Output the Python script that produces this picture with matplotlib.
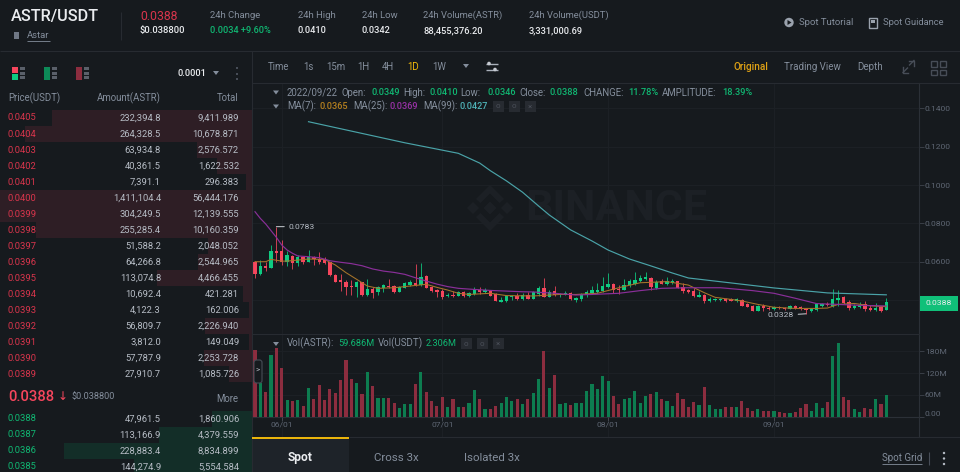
import matplotlib
matplotlib.use("Agg")
import matplotlib.pyplot as plt
from matplotlib.patches import Rectangle, Polygon, FancyBboxPatch, Circle

plt.rcParams['font.family'] = ['Roboto', 'DejaVu Sans']

# ---------- data ----------
UNIT = 1e-4  # OHLC and moving averages are listed in units of 0.0001 USDT
opens = [600,536,577,569,656,656,598,631,591,623,598,626,612,614,597,532,503,496,473,466,492,428,459,440,464,475,475,442,464,478,
         490,478,525,470,452,449,419,428,423,442,423,431,452,440,449,429,391,395,414,421,405,426,407,429,464,417,445,424,428,438,
         402,405,428,435,442,449,466,483,457,454,476,483,497,508,516,464,497,485,490,497,468,450,447,417,426,393,398,398,407,407,
         395,400,379,369,344,369,360,353,363,360,355,367,365,353,341,349,370,381,369,400,414,389,360,365,379,360,349,362,349]
highs = [603,609,600,687,783,713,657,635,635,626,661,630,652,626,600,536,536,504,504,499,496,511,470,473,482,508,478,473,492,504,
         586,591,529,473,456,456,438,449,445,445,442,466,466,461,452,435,414,426,424,438,435,443,445,473,516,452,475,438,449,442,
         414,435,452,475,487,518,539,487,478,508,508,546,530,544,522,504,508,522,511,501,487,456,464,449,429,414,412,409,410,409,
         410,407,382,372,372,377,369,367,367,365,374,372,370,356,356,382,386,388,456,452,421,400,377,389,393,374,382,369,410]
lows = [513,532,550,565,600,583,577,562,579,586,597,583,588,588,527,492,447,426,426,417,423,423,412,426,442,464,438,440,461,473,
        473,473,461,443,417,405,414,416,421,416,417,428,433,438,421,393,388,391,400,402,402,403,403,423,414,414,423,417,424,400,
        389,396,414,429,438,443,461,435,431,450,470,478,492,504,452,456,482,480,485,461,438,438,416,414,386,389,396,395,391,393,
        391,367,362,342,342,344,349,349,353,349,351,351,348,328,337,344,365,369,365,370,377,348,355,360,342,341,344,337,346]
closes = [536,577,567,656,647,597,635,591,623,597,626,612,597,595,529,496,496,468,468,492,426,457,435,466,478,468,442,466,489,492,
          478,522,464,447,443,417,426,421,442,423,436,456,440,452,423,395,400,423,421,405,428,407,442,464,417,443,428,433,438,403,
          409,431,442,450,452,475,483,452,452,480,497,504,515,518,466,496,485,501,501,464,445,442,419,426,395,403,407,407,395,395,
          405,370,363,344,369,358,355,363,356,353,367,356,351,346,351,377,379,374,407,410,382,358,370,374,355,346,358,342,388]
volumes_m = [183,92,67,169,188,135,46,44,45,30,78,49,87,45,75,66,100,156,104,93,61,124,83,52,51,51,38,25,36,34,
             91,122,68,42,30,53,27,50,28,28,38,72,49,22,21,29,39,54,44,49,35,50,64,104,180,80,115,35,37,33,
             38,38,71,91,77,111,98,57,34,49,51,71,38,57,63,67,49,42,30,64,49,27,40,32,82,32,21,21,26,27,
             26,44,23,17,20,17,16,16,14,9,10,12,24,34,16,38,25,41,167,203,53,46,22,12,23,21,50,34,59.7]

ma7_idx = [0,2,3,5,6,10,13,14,15,17,19,21,23,26,29,32,34,36,38,40,44,47,52,57,60,64,68,72,77,81,84,86,89,91,94,97,101,105,107,109,112,115,118]
ma7_val = [600,600,612,603,603,614,612,597,583,543,508,473,461,464,473,482,466,452,435,429,435,423,421,429,429,435,464,490,496,478,438,414,403,395,377,362,356,356,358,377,382,370,365]
ma25_idx = [0,1,2,3,4,5,6,7,8,10,12,14,16,18,20,22,24,26,28,30,32,34,36,38,40,44,50,52,56,60,63,68,72,76,81,87,93,97,101,105,109,113,118]
ma25_val = [861,826,797,762,727,687,661,644,630,626,621,605,597,590,579,562,551,544,534,516,499,483,470,461,457,450,443,442,435,426,429,435,449,461,464,464,449,435,409,381,377,372,369]
ma99_idx = [10,19,28,38,42,44,47,50,53,55,59,63,66,70,74,78,81,89,97,107,118]
ma99_val = [1331,1276,1221,1166,1115,1075,1022,963,891,844,766,708,661,614,578,541,515,489,463,437,427]

date_ticks = {5: '06/01', 35: '07/01', 66: '08/01', 97: '09/01'}
price_ticks = [0.04, 0.06, 0.08, 0.10, 0.12, 0.14]
price_tick_labels = ['', '0.0600', '0.0800', '0.1000', '0.1200', '0.1400']
vol_ticks = [0, 60, 120, 180]
vol_tick_labels = ['0.00', '60M', '120M', '180M']

ask_prices = ['0.0405','0.0404','0.0403','0.0402','0.0401','0.0400','0.0399','0.0398','0.0397','0.0396','0.0395','0.0394','0.0393','0.0392','0.0391','0.0390','0.0389']
ask_amounts = ['232,394.8','264,328.5','63,934.8','40,361.5','7,391.1','1,411,104.4','304,249.5','255,285.4','51,588.2','64,266.8','113,074.8','10,692.4','4,122.3','56,809.7','3,812.0','57,787.9','27,910.7']
ask_totals = [9411.989,10678.871,2576.572,1622.532,296.383,56444.176,12139.555,10160.359,2048.052,2544.965,4466.455,421.281,162.006,2226.940,149.049,2253.728,1085.726]
bid_prices = ['0.0388','0.0387','0.0386','0.0385']
bid_amounts = ['47,961.5','113,166.9','228,883.4','144,274.9']
bid_totals = [1860.906,4379.559,8834.899,5554.584]

# ---------- palette ----------
BG = '#161a1e'; GRID = '#1c2025'; LINE = '#272b31'
GREEN = '#0ecb81'; RED = '#f6465d'; TXT_RED = '#d9354c'; TXT_GRN = '#10b873'
GRAY = '#848e9c'; DIM = '#5e6673'; WHITE = '#eaecef'; VAL = '#b7bdc6'; YEL = '#f0b90b'
VOL_G = '#0d7d50'; VOL_R = '#8c2d3f'

W, H = 960, 472
fig = plt.figure(figsize=(W/100, H/100), dpi=100, facecolor=BG)

def px_axes(x0, y0, x1, y1, **kw):
    return fig.add_axes([x0/W, 1-y1/H, (x1-x0)/W, (y1-y0)/H], **kw)

def pt(px):
    return px*0.72

# ---------- order book depth bars ----------
book = px_axes(0, 0, 252, H, facecolor='none')
book.set_xlim(252/0.0213, 0); book.set_ylim(H, 0); book.axis('off')
ROW = 16.03
ask_y = [118 + ROW*i for i in range(len(ask_totals))]
bid_y = [418.7 + ROW*i for i in range(len(bid_totals))]
book.barh(ask_y, ask_totals, height=ROW, color='#2e1e25', linewidth=0)
book.barh(bid_y, bid_totals, height=ROW, color='#132e28', linewidth=0)

# ---------- price panel ----------
X0, XR = 252, 919.3
A, B = 255, 5.35
xlim = ((X0-A)/B, (XR-A)/B)
ax = px_axes(X0, 82.6, XR, 334, facecolor='none')
ax.set_xlim(*xlim)
ax.set_ylim(0.06-(334-261.7)/1915, 0.06+(261.7-82.6)/1915)
idx = list(range(len(closes)))
for s in ('top','left','bottom'):
    ax.spines[s].set_visible(False)
ax.spines['right'].set_color('#2b3037'); ax.spines['right'].set_linewidth(0.8)
ax.yaxis.tick_right()
ax.set_yticks(price_ticks, price_tick_labels)
ax.tick_params(axis='y', length=3.5, width=0.7, color='#3a3f47', labelcolor=DIM, labelsize=pt(8.5), pad=0.5)
ax.set_xticks(list(date_ticks), [])
ax.tick_params(axis='x', length=0)
ax.grid(True, color=GRID, linewidth=0.8); ax.set_axisbelow(True)

up = [c >= o for o, c in zip(opens, closes)]
cols = [GREEN if u else RED for u in up]
ax.vlines(idx, [v*UNIT for v in lows], [v*UNIT for v in highs], colors=cols, linewidth=0.72, alpha=0.8, zorder=3)
ax.bar(idx, [max(abs(c-o), 1)*UNIT for o, c in zip(opens, closes)],
       bottom=[min(o, c)*UNIT for o, c in zip(opens, closes)], width=0.62, color=cols, linewidth=0, zorder=4)
ax.plot(ma7_idx, [v*UNIT for v in ma7_val], color='#a8752a', lw=0.75, zorder=5)
ax.plot(ma25_idx, [v*UNIT for v in ma25_val], color='#8a2f99', lw=0.85, zorder=5)
ax.plot(ma99_idx, [v*UNIT for v in ma99_val], color='#4aa3a8', lw=0.85, zorder=5)

# high / low markers
hi_i = highs.index(max(highs)); lo_i = lows.index(min(lows))
ax.annotate(f'{max(highs)*UNIT:.4f}', xy=(hi_i, max(highs)*UNIT), xytext=(pt(12), 0), textcoords='offset points',
            color=VAL, fontsize=pt(8.5), va='center', zorder=6,
            arrowprops=dict(arrowstyle='-', color='#c8ccd2', lw=0.72, shrinkA=1, shrinkB=0))
ax.annotate(f'{min(lows)*UNIT:.4f}', xy=(lo_i, min(lows)*UNIT), xytext=(pt(-12), pt(-1.5)), textcoords='offset points',
            color=VAL, fontsize=pt(8.5), va='center', ha='right', zorder=6,
            arrowprops=dict(arrowstyle='-', color='#c8ccd2', lw=0.72, shrinkA=1, shrinkB=0))

# ---------- volume panel ----------
vx = px_axes(X0, 334, XR, 436.7, facecolor='none')
vx.set_xlim(*xlim)
vx.set_ylim(-(436.7-416.7)/0.364, (416.7-334)/0.364)
for s in ('left', 'bottom'):
    vx.spines[s].set_visible(False)
vx.spines['top'].set_color(LINE); vx.spines['top'].set_linewidth(0.8)
vx.spines['right'].set_color('#2b3037'); vx.spines['right'].set_linewidth(0.8)
vx.yaxis.tick_right()
vx.set_yticks(vol_ticks, vol_tick_labels)
vx.tick_params(axis='y', length=3.5, width=0.7, color='#3a3f47', labelcolor=DIM, labelsize=pt(8.5), pad=0.5)
vx.get_yticklabels()[0].set_verticalalignment('bottom')
vx.set_xticks(list(date_ticks), list(date_ticks.values()))
vx.tick_params(axis='x', direction='in', length=0, pad=-10.6, labelcolor=DIM, labelsize=pt(8.5))
vx.grid(True, color=GRID, linewidth=0.8); vx.set_axisbelow(True)
vx.bar(idx, volumes_m, width=0.58, color=[VOL_G if u else VOL_R for u in up], linewidth=0, zorder=3)
vx.axhline(0, color='#2b3037', lw=0.8, zorder=2)
vx.vlines(list(date_ticks), -(4/0.364), 0, color='#454a52', lw=0.7, zorder=2)

# ---------- UI overlay ----------
ui = px_axes(0, 0, W, H, facecolor='none')
ui.set_xlim(0, W); ui.set_ylim(H, 0); ui.axis('off'); ui.set_zorder(10)

def T(x, y, s, c=GRAY, px=9.5, ha='left', w='normal', **kw):
    return ui.text(x, y, s, color=c, fontsize=pt(px), ha=ha, va='center', fontweight=w, **kw)

def hline(y, x0, x1, c=LINE, lw=0.8):
    ui.plot([x0, x1], [y, y], color=c, lw=lw, solid_capstyle='butt')

def vline(x, y0, y1, c=LINE, lw=0.8):
    ui.plot([x, x], [y0, y1], color=c, lw=lw, solid_capstyle='butt')

def R(x, y, w, h, c, z=2):
    ui.add_patch(Rectangle((x, y), w, h, facecolor=c, edgecolor='none', zorder=z))

def caret(x, y, c=GRAY):
    ui.add_patch(Polygon([(x-3, y-2), (x+3, y-2), (x, y+2)], closed=True, facecolor=c, edgecolor='none'))

hline(50.5, 0, W); vline(251.5, 50.5, H); vline(120.5, 12, 40)
hline(82.6, 252, W)

# header
T(11, 16, 'ASTR/USDT', WHITE, 16.2, w='medium')
ui.add_patch(Rectangle((14, 31.5), 5, 7, facecolor='#6f7784', edgecolor='none'))
T(27, 35, 'Astar', GRAY, 9.5); hline(41, 27, 49.5, GRAY, 0.6)
T(140, 17, '0.0388', TXT_RED, 12.3)
T(140, 31, '$0.038800', WHITE, 9.4, w='medium')
T(210, 15, '24h Change', GRAY, 9.5)
T(210, 30.5, '0.0034 +9.60%', TXT_GRN, 9.2, w='medium')
T(298, 15, '24h High', GRAY, 9.5); T(298, 30.5, '0.0410', WHITE, 9.3, w='medium')
T(362, 15, '24h Low', GRAY, 9.5); T(362, 30.5, '0.0342', WHITE, 9.3, w='medium')
T(423, 15, '24h Volume(ASTR)', GRAY, 9.4); T(423, 30.5, '88,455,376.20', WHITE, 9.3, w='medium')
T(529, 15, '24h Volume(USDT)', GRAY, 9.4); T(529, 30.5, '3,331,000.69', WHITE, 9.3, w='medium')
ui.add_patch(Circle((789, 22.5), 4.7, facecolor='#9aa2ad', edgecolor='none'))
ui.add_patch(Polygon([(787.5, 20), (787.5, 25), (791.5, 22.5)], closed=True, facecolor=BG, edgecolor='none', zorder=3))
T(799, 22.5, 'Spot Tutorial', GRAY, 9.5)
ui.add_patch(Rectangle((869, 18), 8, 9.5, facecolor='none', edgecolor='#9aa2ad', lw=1))
R(871, 20, 4, 3, '#9aa2ad', 3)
T(883, 22.5, 'Spot Guidance', GRAY, 9.4)

# toolbar
for x, s, c in [(268, 'Time', GRAY), (303, '1s', GRAY), (326, '15m', GRAY), (357, '1H', GRAY), (382, '4H', GRAY), (407, '1D', YEL), (432, '1W', GRAY)]:
    T(x, 66.5, s, c, 9.7)
caret(466, 66)
for y, xd in [(63.5, 489), (69.5, 495)]:
    hline(y, 486, 498, '#aab1bb', 1.0)
    ui.add_patch(Circle((xd, y), 1.8, facecolor='#c5cad1', edgecolor='none', zorder=3))
T(734, 66.5, 'Original', '#e0a215', 10, w='medium')
T(784, 66.5, 'Trading View', GRAY, 9.8)
T(857, 66.5, 'Depth', GRAY, 9.8)
# expand icon: two corner arrows
ui.plot([903, 903, 908], [67, 72.5, 72.5], color='#474d57', lw=1.0); ui.plot([903, 907.5], [72.5, 68], color='#474d57', lw=1.0)
ui.plot([908.5, 914, 914], [60.5, 60.5, 66], color='#474d57', lw=1.0); ui.plot([914, 909.5], [60.5, 65], color='#474d57', lw=1.0)
for gx in (931, 940):
    for gy in (61, 69.5):
        ui.add_patch(Rectangle((gx, gy), 6, 5.5, facecolor='none', edgecolor='#474d57', lw=1))

# chart legends
caret(276, 92.5); caret(276, 106.5); caret(276, 344)
for x, s, c in [(287, '2022/09/22', GRAY), (341, 'Open:', GRAY), (371, '0.0349', TXT_GRN), (403, 'High:', GRAY), (430, '0.0410', TXT_GRN),
                (460, 'Low:', GRAY), (487, '0.0346', TXT_GRN), (519, 'Close:', GRAY), (550, '0.0388', TXT_GRN),
                (583, 'CHANGE:', GRAY), (628, '11.78%', TXT_GRN), (662, 'AMPLITUDE:', GRAY), (722, '18.39%', TXT_GRN)]:
    T(x, 92.5, s, c, 9.2 if c == TXT_GRN else 9.6, w='medium' if c == TXT_GRN else 'normal')
for x, s, c in [(287, 'MA(7):', GRAY), (320, '0.0365', '#b5801f'), (353, 'MA(25):', GRAY), (390, '0.0369', '#9a32a8'), (423, 'MA(99):', GRAY), (460, '0.0427', '#4fb3b8')]:
    T(x, 106.5, s, c, 9.6 if c == GRAY else 9.2, w='medium' if c != GRAY else 'normal')
for x, s, c in [(287, 'Vol(ASTR):', GRAY), (338, '59.686M', TXT_GRN), (378, 'Vol(USDT)', GRAY), (426, '2.306M', TXT_GRN)]:
    T(x, 343.5, s, c, 9.2 if c == TXT_GRN else 9.8)

def btn(cx, cy, sym):
    R(cx-5.5, cy-5.5, 11, 11, '#272b31')
    T(cx, cy, sym, '#4a4f58', 8, ha='center', zorder=4)
for cx, s in [(498, 'o'), (514, 'o'), (530, '×')]:
    btn(cx, 106.5, s)
for cx, s in [(466, 'o'), (482, 'o'), (498, '×')]:
    btn(cx, 343.5, s)

# collapse handle
ui.add_patch(FancyBboxPatch((254, 360), 8, 23, boxstyle='round,pad=0,rounding_size=2.5', facecolor=BG, edgecolor='#474d57', lw=0.8, zorder=6))
T(258, 371, '>', '#b7bdc6', 8, ha='center', zorder=7)

# last price tag
R(920, 295.7, 38, 15, '#10c079', 8)
T(939, 303, '0.0388', WHITE, 8.5, ha='center', zorder=9)

# watermark
wx, wy = 490, 208
WM = '#1c2025'
for pts in ([(-6.5, 0), (0, -6.5), (6.5, 0), (0, 6.5)], [(-23, 0), (-17, -6), (-11, 0), (-17, 6)], [(23, 0), (17, -6), (11, 0), (17, 6)],
            [(-14, -9), (0, -23), (14, -9), (9.5, -5), (0, -14.5), (-9.5, -5)], [(-14, 9), (0, 23), (14, 9), (9.5, 5), (0, 14.5), (-9.5, 5)]):
    ui.add_patch(Polygon([(wx+a, wy+b) for a, b in pts], closed=True, facecolor=WM, edgecolor='none', zorder=0))
wm_ax = px_axes(252, 82.6, 919, 334, facecolor='none'); wm_ax.axis('off'); wm_ax.set_zorder(-1)
wm_ax.set_xlim(252, 919); wm_ax.set_ylim(334, 82.6)
wm_ax.text(525, 208.5, 'BINANCE', color=WM, fontsize=pt(43), fontweight='bold', va='center', ha='left')

# bottom tabs
R(252, 437, 97, 35, '#1e2329', 1)
hline(437.5, 252, 349, YEL, 1.4)
hline(436.7, 349, W)
T(300.5, 458, 'Spot', WHITE, 12, ha='center', w='bold')
T(396, 458, 'Cross 3x', GRAY, 11.5, ha='center')
T(464, 458, 'Isolated 3x', GRAY, 11.5)
T(882, 458, 'Spot Grid', GRAY, 9.8); hline(464, 882, 922, GRAY, 0.6)
vline(929, 452, 465, '#474d57', 0.8)
for y in (453, 458.5, 464):
    ui.add_patch(Circle((944, y), 1.2, facecolor='#b7bdc6', edgecolor='none'))

# order book UI
def book_icon(x, left_fill):
    for y, c in left_fill:
        R(x, y[0], 6, y[1], c)
    for yy in (67, 71.5, 76):
        R(x+7.5, yy, 5.5, 3.4, '#5a606a')
book_icon(12, [((67, 6), '#f6465d'), ((74, 6), '#0ecb81')])
book_icon(44, [((67, 13), '#0d8a58')])
book_icon(76, [((67, 13), '#8c2d3f')])
T(177, 73.5, '0.0001', WHITE, 9.3, w='medium')
caret(216, 73)
for y in (68, 73.5, 79):
    R(235.5, y-1, 2, 2.2, '#474d57')
T(8, 98, 'Price(USDT)', GRAY, 9.6)
T(161, 98, 'Amount(ASTR)', GRAY, 9.6, ha='right')
T(239, 98, 'Total', GRAY, 9.6, ha='right')
for y, p, a, t in zip(ask_y, ask_prices, ask_amounts, ask_totals):
    T(8, y, p, TXT_RED, 9.4)
    T(161, y, a, VAL, 9.4, ha='right')
    T(239, y, f'{t:,.3f}', VAL, 9.4, ha='right')
for y, p, a, t in zip(bid_y, bid_prices, bid_amounts, bid_totals):
    T(8, y, p, TXT_GRN, 9.4)
    T(161, y, a, VAL, 9.4, ha='right')
    T(239, y, f'{t:,.3f}', VAL, 9.4, ha='right')
T(8, 397, '0.0388', RED, 14.8, w='medium')
T(58, 397, '↓', RED, 12, family=['DejaVu Sans'])
T(71, 397, '$0.038800', GRAY, 9.2)
T(238, 399, 'More', GRAY, 9.6, ha='right')

fig.savefig('out.png', dpi=100, facecolor=BG)
